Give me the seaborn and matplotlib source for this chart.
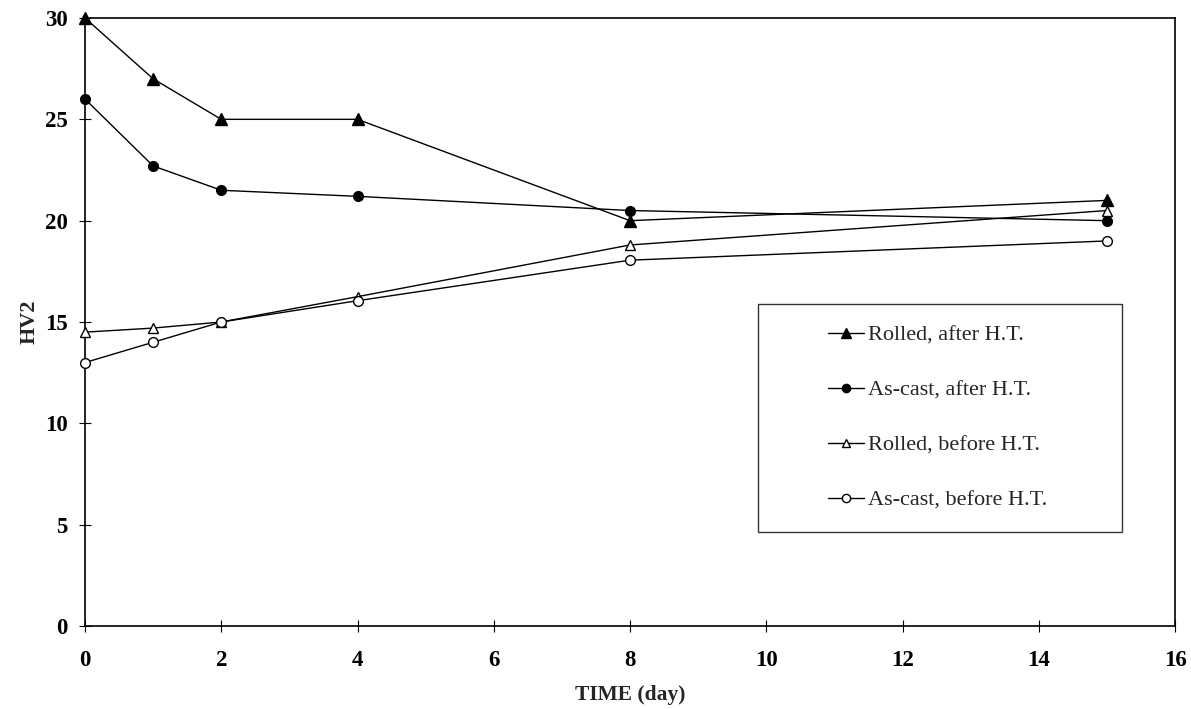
import matplotlib
matplotlib.use("Agg")
import matplotlib.pyplot as plt
import seaborn as sns
import pandas as pd
from matplotlib.patches import Rectangle

sns.set_theme(style="white")
plt.rcParams['font.family'] = ['Liberation Serif', 'DejaVu Serif']

time_days = [0, 1, 2, 4, 8, 15]
rolled_after = [30, 27, 25, 25, 20, 21]
ascast_after = [26, 22.7, 21.5, 21.2, 20.5, 20]
rolled_before = [14.5, 14.7, 15, 16.25, 18.8, 20.5]
ascast_before = [13, 14, 15, 16.05, 18.05, 19]

series_names = ["Rolled, after H.T.", "As-cast, after H.T.",
                "Rolled, before H.T.", "As-cast, before H.T."]
series_values = [rolled_after, ascast_after, rolled_before, ascast_before]
x_ticks = [0, 2, 4, 6, 8, 10, 12, 14, 16]
y_ticks = [0, 5, 10, 15, 20, 25, 30]

styles = [
    dict(marker="^", mfc="black", ms=8),
    dict(marker="o", mfc="black", ms=7),
    dict(marker="^", mfc="white", ms=7),
    dict(marker="o", mfc="white", ms=7),
]

fig = plt.figure(figsize=(11.91, 7.09), dpi=100)
ax = fig.add_axes([85/1191, 83/709, 1090/1191, 608/709])

for name, vals, st in zip(series_names, series_values, styles):
    df = pd.DataFrame({"t": time_days, "hv": vals})
    sns.lineplot(data=df, x="t", y="hv", ax=ax, color="black", lw=1.0,
                 marker=st["marker"], markerfacecolor=st["mfc"],
                 markeredgecolor="black", markeredgewidth=1.0,
                 markersize=st["ms"], label=name, clip_on=False, zorder=4)

ax.set_xlim(0, 16)
ax.set_ylim(0, 30)
ax.set_xticks(x_ticks)
ax.set_yticks(y_ticks)
ax.tick_params(bottom=True, left=True, direction="inout", length=9,
               width=0.8, colors="black", labelsize=16.5)
ax.tick_params(axis="x", pad=13)
ax.tick_params(axis="y", pad=8)
for lab in ax.get_xticklabels() + ax.get_yticklabels():
    lab.set_fontweight("bold")
for s in ax.spines.values():
    s.set_color("black")
    s.set_linewidth(1.2)

ax.set_xlabel("TIME (day)", fontsize=15.5, fontweight="bold", labelpad=10)
ax.set_ylabel("HV2", fontsize=16, fontweight="bold", labelpad=4)

# legend box frame
bx0 = (758 - 85) / 1090
by0 = (626 - 532) / 608
bw = (1122 - 758) / 1090
bh = (532 - 304) / 608
ax.add_patch(Rectangle((bx0, by0), bw, bh, transform=ax.transAxes,
                       fill=False, edgecolor="#333333", lw=1.0, zorder=5))

leg = ax.legend(loc="center", bbox_to_anchor=(bx0 + bw / 2 - 0.002, by0 + bh / 2),
                frameon=False, fontsize=16, handlelength=1.6,
                handletextpad=0.2, labelspacing=1.55, markerscale=0.85)

fig.savefig("out.png", dpi=100)
